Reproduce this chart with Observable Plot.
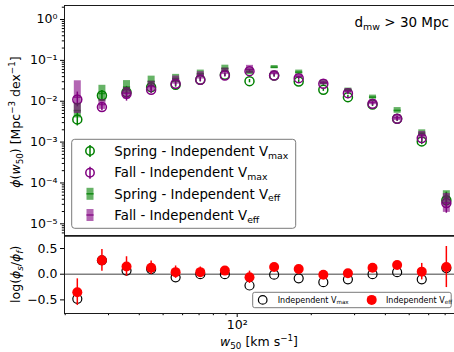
<!DOCTYPE html>
<html><head><meta charset="utf-8">
<script src="https://cdn.jsdelivr.net/npm/d3@7"></script>
<script src="https://cdn.jsdelivr.net/npm/@observablehq/plot@0.6"></script>
<style>
body{margin:0;background:#fff;}
#wrap{position:relative;width:454px;height:352px;overflow:hidden;}
#wrap svg{position:absolute;left:0;}
</style>
</head><body><div id="wrap"></div>
<script>
// ---- data ----
const w50 = [22.4, 28.2, 35.5, 44.7, 56.2, 70.8, 89.1, 112.2, 141.3, 177.8, 223.9, 281.8, 354.8, 446.7, 562.3, 707.9];
// log10 phi [Mpc^-3 dex^-1]
const springVmax = [-2.445, -1.858, -1.778, -1.655, -1.596, -1.474, -1.352, -1.509, -1.369, -1.516, -1.719, -1.900, -2.078, -2.428, -2.983, -4.425];
const springVmaxErr = [0.16, 0.12, 0.10, 0.08, 0.06, 0.05, 0.04, 0.04, 0.04, 0.04, 0.04, 0.04, 0.05, 0.06, 0.08, 0.20];
const fallVmax = [-1.956, -2.144, -1.817, -1.719, -1.572, -1.474, -1.369, -1.264, -1.369, -1.435, -1.572, -1.802, -2.061, -2.428, -2.902, -4.491];
const fallVmaxErr = [0.18, 0.09, 0.18, 0.09, 0.06, 0.05, 0.04, 0.04, 0.04, 0.04, 0.04, 0.04, 0.05, 0.06, 0.08, 0.25];
const springVeff = [-2.23, -1.81, -1.655, -1.516, -1.443, -1.328, -1.198, -1.282, -1.166, -1.288, -1.55, -1.728, -1.90, -2.225, -2.78, -4.35];
const springVeffErr = [0.18, 0.20, 0.16, 0.13, 0.10, 0.09, 0.08, 0.07, 0.04, 0.05, 0.05, 0.05, 0.05, 0.07, 0.08, 0.16];
const fallVeff = [-1.90, -2.08, -1.805, -1.641, -1.483, -1.368, -1.268, -1.222, -1.306, -1.388, -1.54, -1.748, -2.025, -2.405, -2.83, -4.49];
const fallVeffErr = [0.40, 0.12, 0.14, 0.13, 0.10, 0.09, 0.08, 0.10, 0.05, 0.05, 0.06, 0.06, 0.06, 0.07, 0.09, 0.23];
// log(phi_s/phi_f)
const vmaxRatio = [-0.48, 0.27, 0.07, 0.10, -0.06, 0.0, 0.0, -0.22, -0.01, -0.08, -0.155, -0.10, 0.0, 0.04, -0.10, 0.12];
const veffRatio = [-0.35, 0.27, 0.15, 0.125, 0.04, 0.04, 0.07, -0.06, 0.14, 0.10, -0.01, 0.02, 0.125, 0.18, 0.05, 0.14];
const veffRatioErr = [0.26, 0.21, 0.19, 0.13, 0.12, 0.10, 0.07, 0.12, 0.05, 0.05, 0.05, 0.05, 0.05, 0.06, 0.16, 0.40];
// ticks
const yMajorTicks = [1, 0.1, 0.01, 0.001, 1e-4, 1e-5];
const yMajorLabels = ["10⁰", "10⁻¹", "10⁻²", "10⁻³", "10⁻⁴", "10⁻⁵"];
const rTicks = [0.5, 0, -0.5];
const rLabels = ["0.5", "0.0", "−0.5"];
const xMajorTicks = [100];
const xMajorLabels = ["10²"];
const xMinorTicks = [20, 30, 40, 50, 60, 70, 80, 90, 200, 300, 400, 500, 600, 700];

// ---- tables ----
const mk = (vals, errs) => w50.map((w, i) => ({w, phi: 10 ** vals[i], lo: 10 ** (vals[i] - errs[i]), hi: 10 ** (vals[i] + errs[i])}));
const sVmax = mk(springVmax, springVmaxErr), fVmax = mk(fallVmax, fallVmaxErr);
const sVeff = mk(springVeff, springVeffErr), fVeff = mk(fallVeff, fallVeffErr);
const ratio = w50.map((w, i) => ({w, vm: vmaxRatio[i], ve: veffRatio[i], lo: veffRatio[i] - veffRatioErr[i], hi: veffRatio[i] + veffRatioErr[i]}));

const yMinor = [];
for (let e = -6; e <= 0; e++) for (let m = 2; m <= 9; m++) { const v = m * 10 ** e; if (v > 5.18e-6 && v < 2.2) yMinor.push(v); }

const GREEN = "#008000", PURPLE = "#800080";
const hline = {draw(ctx, size) { const r = Math.sqrt(size / Math.PI); ctx.moveTo(-r, 0); ctx.lineTo(r, 0); }};
const xDomain = [19.87, 764];
const yDomain = [5.18e-6, 2.2];
const rDomain = [-0.765, 0.74];
const FONT = "DejaVu Sans";
const baseStyle = {background: "transparent", overflow: "visible", fontFamily: FONT, fontSize: "12.5px", color: "#000"};
const SPINE = "#1a1a1a";

const topPlot = Plot.plot({
  width: 454, height: 240, marginLeft: 64, marginRight: 0, marginTop: 5, marginBottom: 5,
  style: baseStyle,
  x: {type: "log", domain: xDomain, axis: null},
  y: {type: "log", domain: yDomain},
  marks: [
    Plot.axisY({ticks: yMajorTicks, tickFormat: d => yMajorLabels[yMajorTicks.indexOf(d)], tickSize: 4, tickPadding: 3, label: null, fontSize: 12.5}),
    Plot.axisY({ticks: yMinor, tickFormat: () => "", tickSize: 2.2, label: null}),
    // Vmax spring
    Plot.ruleX(sVmax, {x: "w", y1: "lo", y2: "hi", stroke: GREEN, strokeWidth: 1.5}),
    Plot.dot(sVmax, {x: "w", y: "phi", r: 4.5, stroke: GREEN, strokeWidth: 1.5, fill: "none"}),
    // Vmax fall
    Plot.ruleX(fVmax, {x: "w", y1: "lo", y2: "hi", stroke: PURPLE, strokeWidth: 1.5}),
    Plot.dot(fVmax, {x: "w", y: "phi", r: 4.5, stroke: PURPLE, strokeWidth: 1.5, fill: "none"}),
    // Veff spring
    Plot.ruleX(sVeff, {x: "w", y1: "lo", y2: "hi", stroke: GREEN, strokeWidth: 7, strokeOpacity: 0.6}),
    Plot.dot(sVeff, {x: "w", y: "phi", r: 3.6, symbol: hline, stroke: GREEN, strokeWidth: 1.6, strokeOpacity: 0.75, fill: "none"}),
    // Veff fall
    Plot.ruleX(fVeff, {x: "w", y1: "lo", y2: "hi", stroke: PURPLE, strokeWidth: 7, strokeOpacity: 0.6}),
    Plot.dot(fVeff, {x: "w", y: "phi", r: 3.6, symbol: hline, stroke: PURPLE, strokeWidth: 1.6, strokeOpacity: 0.75, fill: "none"}),
    // spines
    Plot.ruleX([xDomain[0]], {stroke: SPINE, strokeWidth: 1}),
    Plot.ruleY([yDomain[1]], {stroke: SPINE, strokeWidth: 1}),
    Plot.ruleY([yDomain[0]], {stroke: SPINE, strokeWidth: 1.2})
  ]
});

const botPlot = Plot.plot({
  width: 454, height: 122, marginLeft: 64, marginRight: 0, marginTop: 5.7, marginBottom: 39,
  style: baseStyle,
  x: {type: "log", domain: xDomain},
  y: {domain: rDomain},
  marks: [
    Plot.axisY({ticks: rTicks, tickFormat: d => rLabels[rTicks.indexOf(d)], tickSize: 4, tickPadding: 3, label: null, fontSize: 12.5}),
    Plot.axisX({ticks: xMajorTicks, tickFormat: d => xMajorLabels[xMajorTicks.indexOf(d)], tickSize: 4, tickPadding: 3, label: null, fontSize: 12.5}),
    Plot.axisX({ticks: xMinorTicks, tickFormat: () => "", tickSize: 2.2, label: null}),
    Plot.ruleY([0], {stroke: "#808080", strokeWidth: 1.5}),
    Plot.dot(ratio, {x: "w", y: "vm", r: 4.5, stroke: "#000", strokeWidth: 1.2, fill: "none"}),
    Plot.ruleX(ratio, {x: "w", y1: "lo", y2: "hi", stroke: "red", strokeWidth: 1.5}),
    Plot.dot(ratio, {x: "w", y: "ve", r: 5, fill: "red", stroke: "none"}),
    Plot.ruleX([xDomain[0]], {stroke: SPINE, strokeWidth: 1}),
    Plot.ruleY([rDomain[1]], {stroke: SPINE, strokeWidth: 1.2}),
    Plot.ruleY([rDomain[0]], {stroke: SPINE, strokeWidth: 1})
  ]
});

topPlot.style.top = "0px";
botPlot.style.top = "230px";
const wrap = document.getElementById("wrap");
wrap.appendChild(topPlot);
wrap.appendChild(botPlot);

// rich text helper: parts = [[text, kind]], kind: n | i | sub | isub | sup
function rich(svg, x, y, parts, {size = 13, anchor = "start", rotate = 0} = {}) {
  const t = d3.select(svg).append("text")
    .attr("font-family", FONT).attr("font-size", size).attr("fill", "#000")
    .attr("text-anchor", anchor)
    .attr("transform", `translate(${x},${y}) rotate(${rotate})`);
  let shift = 0;
  for (const [s, k] of parts) {
    let target = 0, fs = size, it = false;
    if (k === "sub" || k === "isub") { target = 0.22 * size; fs = 0.7 * size; }
    if (k === "sup") { target = -0.42 * size; fs = 0.7 * size; }
    if (k === "i" || k === "isub") it = true;
    t.append("tspan").attr("dy", target - shift).attr("font-size", fs)
      .attr("font-style", it ? "italic" : "normal").text(s);
    shift = target;
  }
  return t;
}

// axis labels
rich(topPlot, 20, 122, [["ϕ", "i"], ["(", "n"], ["w", "i"], ["50", "sub"], [") [Mpc", "n"], ["−3", "sup"], [" dex", "n"], ["−1", "sup"], ["]", "n"]], {size: 12.5, anchor: "middle", rotate: -90});
rich(botPlot, 20, 44.3, [["log(", "n"], ["ϕ", "i"], ["s", "isub"], ["/", "n"], ["ϕ", "i"], ["f", "isub"], [")", "n"]], {size: 12.5, anchor: "middle", rotate: -90});
rich(botPlot, 259, 116, [["w", "i"], ["50", "sub"], [" [km s", "n"], ["−1", "sup"], ["]", "n"]], {size: 12.5, anchor: "middle"});
// annotation
rich(topPlot, 449, 27, [["d", "n"], ["mw", "sub"], [" > 30 Mpc", "n"]], {size: 13.5, anchor: "end"});

// top legend
{
  const g = d3.select(topPlot).append("g");
  g.append("rect").attr("x", 71.7).attr("y", 139.3).attr("width", 224).attr("height", 89).attr("rx", 3)
    .attr("fill", "#fff").attr("fill-opacity", 0.8).attr("stroke", "#7a7a7a").attr("stroke-width", 1);
  const rows = [151, 172.7, 193.8, 215];
  const mx = 90;
  [[GREEN, rows[0]], [PURPLE, rows[1]]].forEach(([c, y]) => {
    g.append("line").attr("x1", mx).attr("x2", mx).attr("y1", y - 6).attr("y2", y + 6).attr("stroke", c).attr("stroke-width", 1.5);
    g.append("circle").attr("cx", mx).attr("cy", y).attr("r", 4.2).attr("fill", "none").attr("stroke", c).attr("stroke-width", 1.5);
  });
  [[GREEN, rows[2]], [PURPLE, rows[3]]].forEach(([c, y]) => {
    g.append("rect").attr("x", mx - 3.5).attr("y", y - 6).attr("width", 7).attr("height", 12).attr("fill", c).attr("fill-opacity", 0.6);
    g.append("line").attr("x1", mx - 3.6).attr("x2", mx + 3.6).attr("y1", y).attr("y2", y).attr("stroke", c).attr("stroke-width", 1.6).attr("stroke-opacity", 0.75);
  });
  const labels = [["Spring - Independent V", "max"], ["Fall - Independent V", "max"], ["Spring - Independent V", "eff"], ["Fall - Independent V", "eff"]];
  labels.forEach(([a, b], i) => rich(topPlot, 114.3, rows[i] + 4.7, [[a, "n"], [b, "sub"]], {size: 13.3}));
}
// bottom legend
{
  const g = d3.select(botPlot).append("g");
  g.append("rect").attr("x", 252.7).attr("y", 62.3).attr("width", 198.5).attr("height", 15.4).attr("rx", 2)
    .attr("fill", "#fff").attr("fill-opacity", 0.8).attr("stroke", "#7a7a7a").attr("stroke-width", 1);
  g.append("circle").attr("cx", 262.7).attr("cy", 69.9).attr("r", 4.3).attr("fill", "none").attr("stroke", "#000").attr("stroke-width", 1.2);
  g.append("circle").attr("cx", 371.7).attr("cy", 69.9).attr("r", 5).attr("fill", "red");
  rich(botPlot, 277.7, 72.7, [["Independent V", "n"], ["max", "sub"]], {size: 8});
  rich(botPlot, 386, 72.7, [["Independent V", "n"], ["eff", "sub"]], {size: 8});
}
</script>
</body></html>
